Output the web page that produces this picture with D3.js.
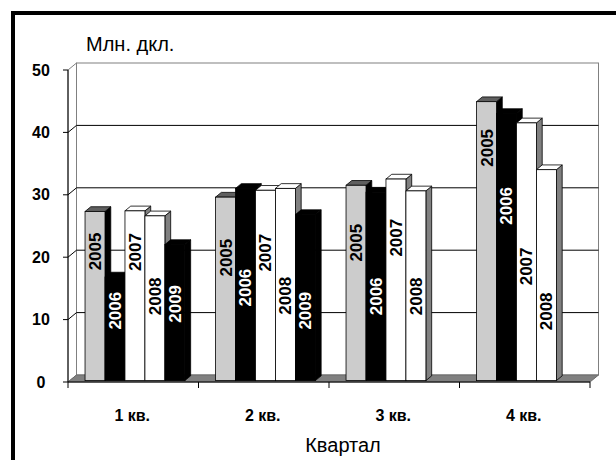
<!DOCTYPE html>
<html>
<head>
<meta charset="utf-8">
<script src="https://cdn.jsdelivr.net/npm/d3@7"></script>
<style>
  body { margin: 0; background: #fff; }
  text { font-family: Arial, 'Liberation Sans', sans-serif; }
</style>
</head>
<body>
<svg id="drawing_region"></svg>
<script>
// данные (млн. дкл.)
const quarters = ['1 кв.', '2 кв.', '3 кв.', '4 кв.'];
const years = ['2005', '2006', '2007', '2008', '2009'];
const v2005 = [27.1, 29.4, 31.3, 44.7];
const v2006 = [16.6, 30.8, 30.2, 42.8];
const v2007 = [27.2, 30.5, 32.3, 41.3];
const v2008 = [26.4, 30.8, 30.4, 33.8];
const v2009 = [21.8, 26.6, null, null];
// where the year label sits on the value axis
const lab2005 = [20.7, 19.7, 22.1, 37.3];
const lab2006 = [11.2, 14.9, 13.5, 28.0];
const lab2007 = [20.6, 20.5, 22.9, 18.3];
const lab2008 = [13.5, 13.6, 13.5, 11.1];
const lab2009 = [12.3, 11.2, null, null];
const yTicks = [0, 10, 20, 30, 40, 50];

const seriesValues = [v2005, v2006, v2007, v2008, v2009];
const seriesLabels = [lab2005, lab2006, lab2007, lab2008, lab2009];

// front, top, side colours of each year
const styles = {
    '2005': {front: '#cccccc', top: '#5f5f5f', side: '#000000', text: '#000'},
    '2006': {front: '#000000', top: '#000000', side: '#000000', text: '#fff'},
    '2007': {front: '#ffffff', top: '#ffffff', side: '#808080', text: '#000'},
    '2008': {front: '#ffffff', top: '#ffffff', side: '#808080', text: '#000'},
    '2009': {front: '#000000', top: '#000000', side: '#000000', text: '#fff'}
};

const data = [];
quarters.forEach((q, i) => {
    years.forEach((y, j) => {
        data.push({quarter: q, year: y, value: seriesValues[j][i], labelAt: seriesLabels[j][i]});
    });
});

class Bar3DChart {
    constructor(config, data) {
        this.config = {
            parent: config.parent,
            width: config.width || 616,
            height: config.height || 460,
            left: 68, right: 590, top: 70, bottom: 382,
            dx: 8.5, dy: -7,
            bar0: 0.2, bar1: 0.88
        };
        this.data = data;
        this.init();
    }

    init() {
        let self = this;
        self.svg = d3.select(self.config.parent)
            .attr('width', self.config.width)
            .attr('height', self.config.height);

        self.x0 = d3.scaleBand()
            .domain(quarters)
            .range([self.config.left, self.config.right])
            .paddingInner(0.235)
            .paddingOuter(0.1175);
        self.x1 = d3.scaleBand()
            .domain(years)
            .range([0, self.x0.bandwidth()]);
        self.y = d3.scaleLinear()
            .domain([0, 50])
            .range([self.config.bottom, self.config.top]);
    }

    render() {
        let self = this;
        const c = self.config;
        const svg = self.svg;
        const y = self.y;
        const bx = c.dx, by = c.dy;
        const pts = a => a.map(p => p.join(',')).join(' ');

        // рамка
        svg.append('rect')
            .attr('x', 13).attr('y', 13)
            .attr('width', 640).attr('height', 480)
            .attr('fill', 'none').attr('stroke', '#000').attr('stroke-width', 4);

        // стенки
        svg.append('rect')
            .attr('x', c.left + bx).attr('y', c.top + by)
            .attr('width', c.right - c.left).attr('height', c.bottom - c.top)
            .attr('fill', '#fff').attr('stroke', '#808080');
        svg.append('polygon')
            .attr('points', pts([[c.left, c.top], [c.left + bx, c.top + by],
                                 [c.left + bx, c.bottom + by], [c.left, c.bottom]]))
            .attr('fill', '#fff').attr('stroke', '#808080');

        // сетка
        yTicks.filter(t => t > 0 && t < 50).forEach(t => {
            svg.append('line')
                .attr('x1', c.left + bx).attr('x2', c.right + bx)
                .attr('y1', y(t) + by).attr('y2', y(t) + by)
                .attr('stroke', '#000');
            svg.append('line')
                .attr('x1', c.left).attr('x2', c.left + bx)
                .attr('y1', y(t)).attr('y2', y(t) + by)
                .attr('stroke', '#000');
        });

        // пол
        svg.append('polygon')
            .attr('points', pts([[c.left, c.bottom], [c.right, c.bottom],
                                 [c.right + bx, c.bottom + by], [c.left + bx, c.bottom + by]]))
            .attr('fill', '#808080').attr('stroke', '#6a6a6a');

        // столбики
        const d0x = c.bar0 * bx, d0y = c.bar0 * by;
        const ddx = (c.bar1 - c.bar0) * bx, ddy = (c.bar1 - c.bar0) * by;
        const bw = self.x1.bandwidth();

        const bars = svg.append('g').selectAll('g')
            .data(self.data.filter(d => d.value != null))
            .join('g');

        bars.each(function(d) {
            const g = d3.select(this);
            const st = styles[d.year];
            const a = self.x0(d.quarter) + self.x1(d.year) + d0x;
            const b = a + bw;
            const yt = y(d.value) + d0y;
            const yb = y(0) + d0y;
            g.append('polygon')
                .attr('points', pts([[b, yt], [b + ddx, yt + ddy], [b + ddx, yb + ddy], [b, yb]]))
                .attr('fill', st.side).attr('stroke', '#000').attr('stroke-width', 0.8);
            g.append('polygon')
                .attr('points', pts([[a, yt], [b, yt], [b + ddx, yt + ddy], [a + ddx, yt + ddy]]))
                .attr('fill', st.top).attr('stroke', '#000').attr('stroke-width', 0.8);
            g.append('rect')
                .attr('x', a).attr('y', yt)
                .attr('width', bw).attr('height', yb - yt)
                .attr('fill', st.front).attr('stroke', '#000').attr('stroke-width', 0.8);
            g.append('text')
                .attr('transform', `translate(${a + bw / 2 + 0.5},${y(d.labelAt) + d0y}) rotate(-90)`)
                .attr('text-anchor', 'middle')
                .attr('dominant-baseline', 'central')
                .style('font-size', '17px')
                .style('font-weight', 'bold')
                .attr('fill', st.text)
                .text(d.year);
        });

        // оси
        svg.append('line')
            .attr('x1', c.left).attr('x2', c.left)
            .attr('y1', c.top).attr('y2', c.bottom)
            .attr('stroke', '#000');
        svg.append('line')
            .attr('x1', c.left).attr('x2', c.right)
            .attr('y1', c.bottom).attr('y2', c.bottom)
            .attr('stroke', '#000');

        svg.append('g').selectAll('line')
            .data(yTicks).join('line')
            .attr('x1', c.left - 5).attr('x2', c.left)
            .attr('y1', d => y(d)).attr('y2', d => y(d))
            .attr('stroke', '#000');
        svg.append('g').selectAll('text')
            .data(yTicks).join('text')
            .attr('x', 41).attr('y', d => y(d))
            .attr('text-anchor', 'middle')
            .attr('dominant-baseline', 'central')
            .style('font-size', '16px').style('font-weight', 'bold')
            .text(d => d);

        const step = self.x0.step();
        svg.append('g').selectAll('line')
            .data(d3.range(quarters.length + 1)).join('line')
            .attr('x1', i => c.left + i * step).attr('x2', i => c.left + i * step)
            .attr('y1', c.bottom).attr('y2', c.bottom + 6)
            .attr('stroke', '#000');
        svg.append('g').selectAll('text')
            .data(quarters).join('text')
            .attr('x', d => self.x0(d) + self.x0.bandwidth() / 2 - 1)
            .attr('y', 421)
            .attr('text-anchor', 'middle')
            .style('font-size', '16px').style('font-weight', 'bold')
            .text(d => d);

        // подписи
        svg.append('text')
            .attr('x', 86).attr('y', 51)
            .style('font-size', '20px')
            .text('Млн. дкл.');
        svg.append('text')
            .attr('x', 343).attr('y', 452)
            .attr('text-anchor', 'middle')
            .style('font-size', '20px')
            .text('Квартал');
    }
}

const chart = new Bar3DChart({parent: '#drawing_region', width: 616, height: 460}, data);
chart.render();
</script>
</body>
</html>
